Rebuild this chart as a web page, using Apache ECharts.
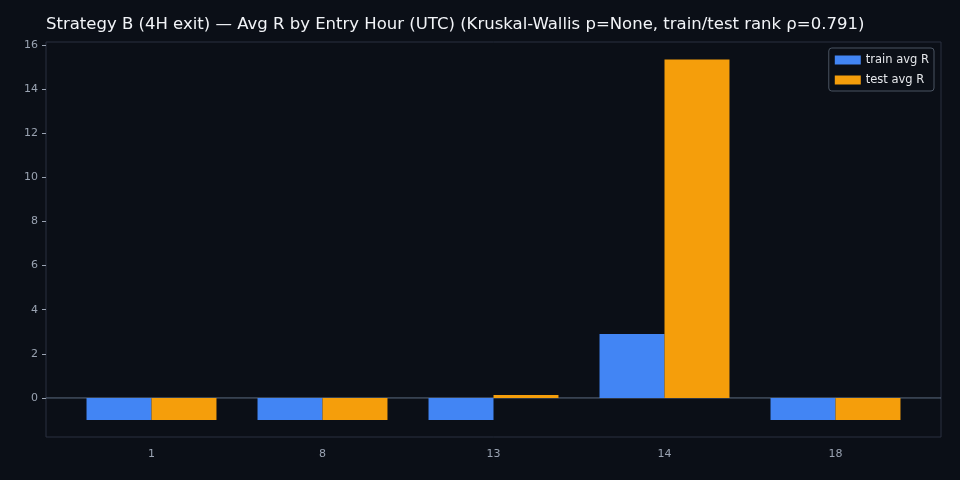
<!DOCTYPE html>
<html><head><meta charset="utf-8">
<script src="https://cdn.jsdelivr.net/npm/echarts@6/dist/echarts.min.js"></script>
<style>html,body{margin:0;padding:0;background:#0b0f17}#c{width:960px;height:480px}</style>
</head><body><div id="c"></div>
<script>
const categories = ['1','8','13','14','18'];
const trainAvgR = [-1.0, -1.0, -1.0, 2.9, -1.0];
const testAvgR = [-1.0, -1.0, 0.13, 15.35, -1.0];
const yMin = -1.77, yMax = 16.14;
const chart = echarts.init(document.getElementById('c'));
const font = 'DejaVu Sans';
chart.setOption({
  backgroundColor:'#0b0f17',
  animation:false,
  title:{text:'Strategy B (4H exit) — Avg R by Entry Hour (UTC) (Kruskal-Wallis p=None, train/test rank ρ=0.791)',
    left:41, top:11, textStyle:{color:'#f2f4f8', fontSize:16.5, fontWeight:'normal', fontFamily:font}},
  legend:{right:26, top:48, orient:'vertical', itemWidth:26, itemHeight:9, itemGap:8, icon:'rect',
    backgroundColor:'#0b0f17', borderColor:'#4b5563', borderWidth:1, borderRadius:3, padding:[6,5,5,6],
    textStyle:{color:'#e5e7eb', fontSize:11.5, fontFamily:font},
    data:['train avg R','test avg R']},
  grid:[
    {left:46, right:19, top:42, bottom:43, show:true, borderColor:'#2a3140', borderWidth:1, backgroundColor:'#0b0f17'},
    {left:66, right:39, top:42, bottom:43}
  ],
  xAxis:[
    {type:'value', gridIndex:0, min:0, max:1, show:false},
    {type:'category', gridIndex:1, data:categories,
      axisLine:{show:false},
      axisTick:{alignWithLabel:true, length:4, lineStyle:{color:'#9aa3b2'}},
      axisLabel:{color:'#9aa3b2', fontSize:11, fontFamily:font, margin:12}}
  ],
  yAxis:[
    {type:'value', gridIndex:0, min:yMin, max:yMax, splitNumber:9,
      axisLine:{show:false},
      axisTick:{show:true, length:4, lineStyle:{color:'#9aa3b2'}},
      splitLine:{show:false},
      axisLabel:{color:'#9aa3b2', fontSize:11, fontFamily:font, showMinLabel:false, showMaxLabel:false,
        formatter:v=> (Math.abs(v-Math.round(v))>1e-6||v<0||v>16)?'':String(v)}},
    {type:'value', gridIndex:1, min:yMin, max:yMax, show:false, splitLine:{show:false}}
  ],
  series:[
    {name:'zero', type:'line', xAxisIndex:0, yAxisIndex:0, data:[[0,0],[1,0]], symbol:'none', silent:true,
      lineStyle:{color:'#5b6b80', width:1}, z:1},
    {name:'train avg R', type:'bar', xAxisIndex:1, yAxisIndex:1, data:trainAvgR, barGap:'0%', barCategoryGap:'24%',
      itemStyle:{color:'#4285f4'}, z:2},
    {name:'test avg R', type:'bar', xAxisIndex:1, yAxisIndex:1, data:testAvgR, itemStyle:{color:'#f59e0b'}, z:2}
  ]
});
</script></body></html>
